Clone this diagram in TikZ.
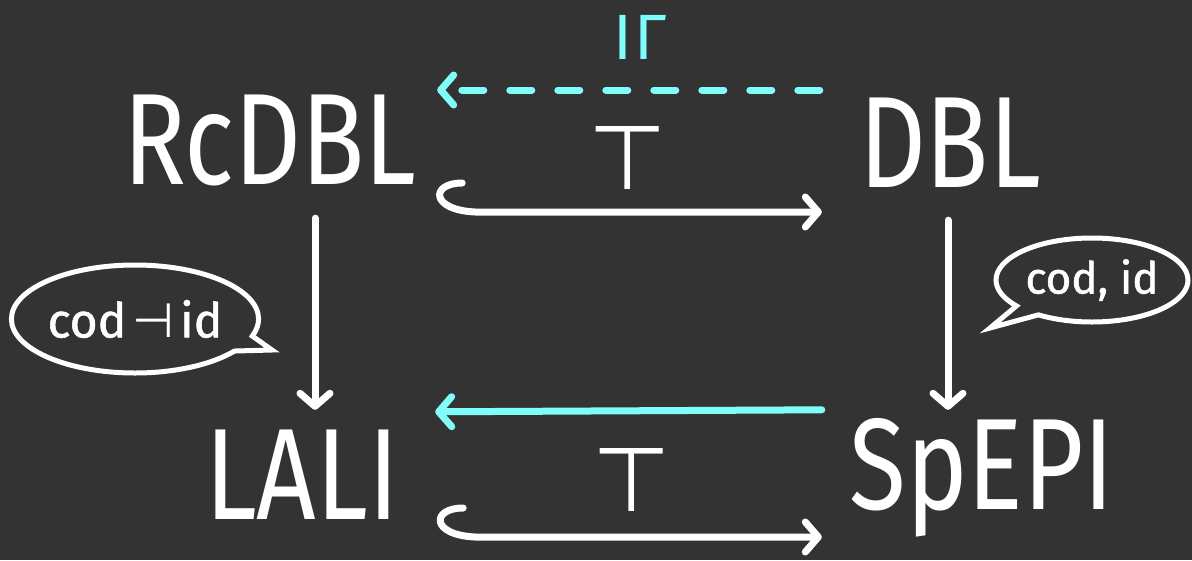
\documentclass[tikz,border=0pt]{standalone}
\usepackage{fontspec}
\setmainfont{Fira Sans}
\newfontfamily\bigfont[FakeStretch=0.8]{Fira Sans}
\newfontfamily\notefont[FakeBold=1.2]{Fira Sans}
\newfontfamily\symfont{DejaVu Sans}
\usetikzlibrary{arrows.meta,shapes.callouts}
\definecolor{board}{RGB}{51,51,51}
\definecolor{chalkcyan}{RGB}{128,252,250}
\tikzset{
  obj/.style={inner sep=0pt, text=white, font=\bigfont\fontsize{130}{130}\selectfont},
  tip/.style={-{Straight Barb[length=13pt,width=30pt,round]}},
  wline/.style={draw=white, line width=7pt, line cap=round, line join=round},
  cline/.style={draw=chalkcyan, line width=7pt, line cap=round, line join=round},
  toplabel/.style={inner sep=0pt, text=white, font=\symfont\fontsize{90}{90}\selectfont},
  bubble/.style={ellipse callout, draw=white, line width=5pt, text=white,
    inner sep=0pt, font=\notefont\fontsize{48}{48}\selectfont, callout pointer arc=18},
}
\begin{document}
\begin{tikzpicture}[x=1pt,y=-1pt]
  \fill[board] (0,0) rectangle (1192,560);
  \useasboundingbox (0,0) rectangle (1192,560);

  % objects
  \node[obj, minimum width=330pt, minimum height=156pt] (RcDBL) at (270,140) {RcDBL};
  \node[obj, minimum width=256pt, minimum height=154pt] (DBL) at (950,143) {DBL};
  \node[obj, minimum width=266pt, minimum height=130pt] (LALI) at (302,475) {LALI};
  \node[obj, minimum width=320pt, minimum height=136pt] (SpEPI) at (982,478) {SpEPI};

  % labels
  \node[toplabel] (top1) at (628,158) {⊤};
  \node[toplabel] (top2) at (632,480) {⊤};
  \node[inner sep=0pt, text=chalkcyan, font=\fontsize{64}{64}\selectfont] (gam) at (640,37) {I\kern2ptΓ};

  % inclusions (hooked arrows)
  \draw[wline, tip] ([shift={(27,43)}]RcDBL.east)
    .. controls +(-32,0) and +(-45,-2) .. ([shift={(40,72)}]RcDBL.east)
    -- ([shift={(0,69)}]DBL.west);
  \draw[wline, tip] ([shift={(28,33)}]LALI.east)
    .. controls +(-32,0) and +(-45,-2) .. ([shift={(40,62)}]LALI.east)
    -- ([shift={(0,59)}]SpEPI.west);

  % adjoints
  \draw[cline, tip, dash pattern=on 22pt off 26pt] ([shift={(-2,-53)}]DBL.west) -- ([shift={(2,-50)}]RcDBL.east);
  \draw[cline, tip] (SpEPI.north west) -- ([yshift=-2pt]LALI.north east);

  % vertical functors
  \draw[wline, tip] ([xshift=45pt]RcDBL.south) -- ([xshift=13pt]LALI.north);
  \draw[wline, tip] ([xshift=-2pt]DBL.south) -- ([xshift=-34pt]SpEPI.north);

  % speech bubbles
  \node[bubble, minimum width=246pt, minimum height=108pt,
        callout absolute pointer={(272,350)}] (lb) at (135,319)
        {\raisebox{0pt}{cod}\kern6pt{\symfont ⊣}\kern6pt id};
  \node[bubble, minimum width=192pt, minimum height=84pt,
        font=\notefont\fontsize{44}{44}\selectfont,
        callout absolute pointer={(990,328)}] (rb) at (1092,280)
        {cod, id};
\end{tikzpicture}
\end{document}
